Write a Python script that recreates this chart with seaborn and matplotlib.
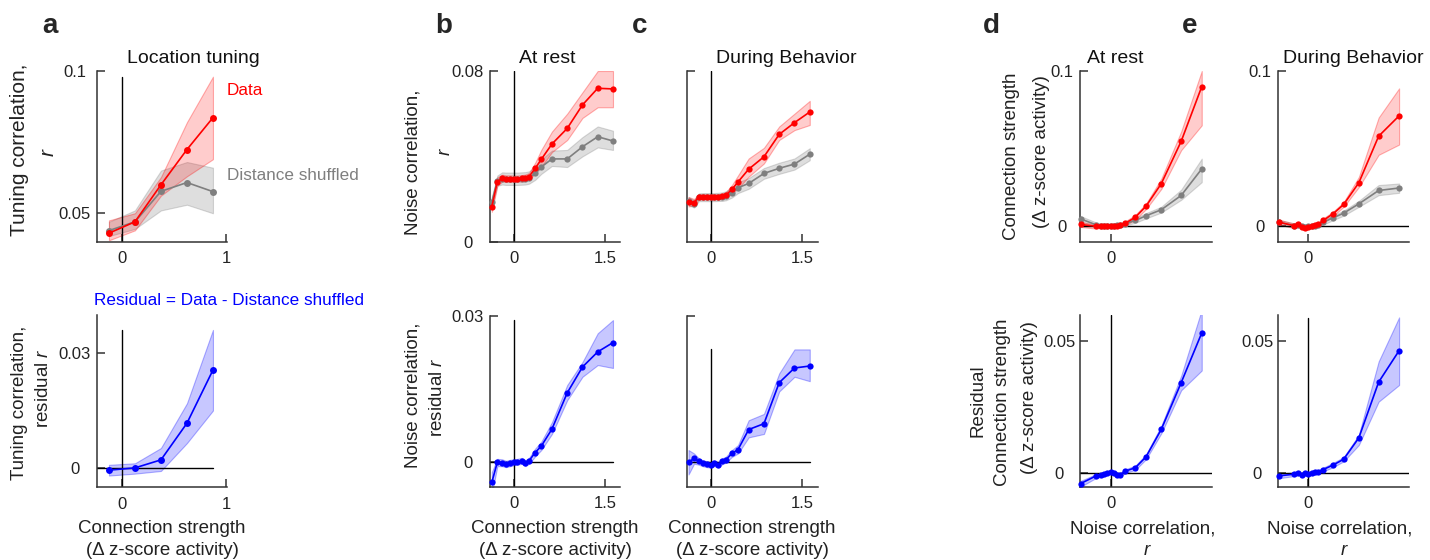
import matplotlib
matplotlib.use("Agg")
import matplotlib.pyplot as plt
import seaborn as sns

sns.set_style("ticks")
plt.rcParams["font.family"] = ["Liberation Sans", "DejaVu Sans"]
plt.rcParams["mathtext.fontset"] = "custom"
plt.rcParams["mathtext.it"] = "Liberation Sans:italic"
plt.rcParams["mathtext.rm"] = "Liberation Sans"

RED, GRAY, BLUE = "#ff0000", "#7f7f7f", "#0000ff"
INK = "#333333"

# --- panel a : location tuning vs connection strength
X_A = [-0.125, 0.125, 0.375, 0.625, 0.875]
A_DATA = [0.043, 0.047, 0.060, 0.0724, 0.0836]
A_DATA_LO = [0.0405, 0.044, 0.0562, 0.063, 0.069]
A_DATA_HI = [0.0475, 0.050, 0.0627, 0.082, 0.098]
A_SHUF = [0.0439, 0.047, 0.0577, 0.0608, 0.0576]
A_SHUF_LO = [0.0420, 0.0445, 0.051, 0.053, 0.050]
A_SHUF_HI = [0.0470, 0.051, 0.065, 0.068, 0.066]
A_RES = [-0.0006, 0.0, 0.0021, 0.0117, 0.0256]
A_RES_LO = [-0.002, -0.0015, -0.0008, 0.0065, 0.015]
A_RES_HI = [0.0008, 0.0012, 0.0052, 0.0169, 0.0361]

# --- panels b, c : noise correlation vs connection strength
X_BC = [-0.36, -0.27, -0.19, -0.13, -0.06, 0.0, 0.06, 0.13, 0.19, 0.25,
        0.35, 0.45, 0.625, 0.875, 1.125, 1.375, 1.625]
B_DATA = [0.0164, 0.0281, 0.0297, 0.0295, 0.0295, 0.0294, 0.0295, 0.0297, 0.0300, 0.0305,
          0.0344, 0.0386, 0.0458, 0.0531, 0.0641, 0.0719, 0.0716]
B_DATA_LO = [0.0140, 0.0262, 0.0282, 0.0281, 0.0281, 0.0280, 0.0281, 0.0282, 0.0285, 0.0290,
             0.0320, 0.0350, 0.0420, 0.0477, 0.0580, 0.0630, 0.0630]
B_DATA_HI = [0.0190, 0.0302, 0.0314, 0.0311, 0.0311, 0.0310, 0.0310, 0.0312, 0.0315, 0.0322,
             0.0370, 0.0430, 0.0516, 0.0600, 0.0700, 0.0800, 0.0800]
B_SHUF = [0.0187, 0.0285, 0.0295, 0.0294, 0.0294, 0.0294, 0.0294, 0.0295, 0.0296, 0.0300,
          0.0320, 0.0350, 0.0388, 0.0388, 0.0445, 0.0492, 0.0472]
B_SHUF_LO = [0.0165, 0.0262, 0.0268, 0.0266, 0.0266, 0.0266, 0.0266, 0.0267, 0.0268, 0.0272,
             0.0290, 0.0318, 0.0355, 0.0350, 0.0400, 0.0442, 0.0430]
B_SHUF_HI = [0.0210, 0.0310, 0.0325, 0.0324, 0.0324, 0.0324, 0.0324, 0.0325, 0.0326, 0.0330,
             0.0352, 0.0385, 0.0427, 0.0430, 0.0490, 0.0540, 0.0520]
C_DATA = [0.0188, 0.0183, 0.0211, 0.0211, 0.0210, 0.0210, 0.0211, 0.0211, 0.0212, 0.0218,
          0.0245, 0.0280, 0.0340, 0.0398, 0.0503, 0.0558, 0.0608]
C_DATA_LO = [0.0165, 0.0170, 0.0198, 0.0199, 0.0199, 0.0199, 0.0199, 0.0199, 0.0200, 0.0205,
             0.0225, 0.0250, 0.0305, 0.0367, 0.0477, 0.0523, 0.0547]
C_DATA_HI = [0.0210, 0.0200, 0.0224, 0.0223, 0.0222, 0.0222, 0.0223, 0.0223, 0.0224, 0.0232,
             0.0265, 0.0310, 0.0390, 0.0440, 0.0540, 0.0600, 0.0660]
C_SHUF = [0.0190, 0.0177, 0.0208, 0.0209, 0.0209, 0.0209, 0.0209, 0.0210, 0.0211, 0.0215,
          0.0230, 0.0253, 0.0273, 0.0320, 0.0344, 0.0364, 0.0410]
C_SHUF_LO = [0.0172, 0.0160, 0.0190, 0.0190, 0.0190, 0.0190, 0.0190, 0.0191, 0.0191, 0.0194,
             0.0207, 0.0228, 0.0248, 0.0295, 0.0318, 0.0338, 0.0382]
C_SHUF_HI = [0.0208, 0.0195, 0.0226, 0.0228, 0.0228, 0.0228, 0.0228, 0.0229, 0.0231, 0.0236,
             0.0253, 0.0278, 0.0298, 0.0345, 0.0370, 0.0390, 0.0438]
B_RES = [-0.0041, 0.0, -0.0001, -0.0004, -0.0001, 0.0, 0.0001, 0.0003, -0.0002, 0.0003,
         0.0020, 0.0033, 0.0068, 0.0142, 0.0195, 0.0226, 0.0245]
B_RES_LO = [-0.0065, -0.0008, -0.0008, -0.0010, -0.0008, -0.0006, -0.0005, -0.0003, -0.0008, -0.0003,
            0.0012, 0.0025, 0.0058, 0.0127, 0.0175, 0.0199, 0.0193]
B_RES_HI = [-0.0020, 0.0007, 0.0006, 0.0003, 0.0005, 0.0006, 0.0007, 0.0009, 0.0004, 0.0009,
            0.0028, 0.0042, 0.0082, 0.0158, 0.0205, 0.0264, 0.0291]
C_RES = [0.0, 0.0008, 0.0002, -0.0002, -0.0004, -0.0005, -0.0002, -0.0005, 0.0002, 0.0005,
         0.0018, 0.0026, 0.0067, 0.0079, 0.0163, 0.0193, 0.0197]
C_RES_LO = [-0.0025, -0.0003, -0.0005, -0.0008, -0.0010, -0.0011, -0.0008, -0.0011, -0.0004, -0.0001,
            0.0011, 0.0018, 0.0051, 0.0058, 0.0145, 0.0175, 0.0166]
C_RES_HI = [0.0025, 0.0018, 0.0008, 0.0004, 0.0002, 0.0001, 0.0004, 0.0001, 0.0008, 0.0011,
            0.0025, 0.0035, 0.0086, 0.0099, 0.0182, 0.0231, 0.0231]

# --- panels d, e : connection strength vs noise correlation
X_DE = [-0.09, -0.045, -0.03, -0.02, -0.01, 0.0, 0.01, 0.02, 0.03,
        0.045, 0.075, 0.107, 0.153, 0.213, 0.275]
D_DATA = [0.0011, 0.0, 0.0, 0.0002, 0.0, 0.0, 0.0002, 0.0004, 0.0006,
          0.0019, 0.0058, 0.0129, 0.0274, 0.0547, 0.0899]
D_DATA_LO = [-0.0005, -0.0015, -0.0013, -0.0011, -0.0012, -0.0012, -0.0010, -0.0008, -0.0006,
             0.0006, 0.0043, 0.0110, 0.0240, 0.0490, 0.0650]
D_DATA_HI = [0.0027, 0.0012, 0.0012, 0.0014, 0.0012, 0.0012, 0.0014, 0.0016, 0.0018,
             0.0032, 0.0073, 0.0145, 0.0306, 0.0610, 0.1000]
D_SHUF = [0.0047, 0.0010, 0.0004, 0.0004, 0.0004, 0.0004, 0.0004, 0.0006, 0.0008,
          0.0017, 0.0037, 0.0067, 0.0106, 0.0198, 0.0369]
D_SHUF_LO = [0.0030, -0.0005, -0.0010, -0.0010, -0.0010, -0.0010, -0.0010, -0.0008, -0.0006,
             0.0005, 0.0022, 0.0050, 0.0088, 0.0170, 0.0284]
D_SHUF_HI = [0.0065, 0.0025, 0.0018, 0.0018, 0.0018, 0.0018, 0.0018, 0.0020, 0.0022,
             0.0030, 0.0052, 0.0084, 0.0125, 0.0235, 0.0435]
E_DATA = [0.0026, 0.0004, 0.0015, -0.0006, -0.0010, -0.0006, 0.0, 0.0009, 0.0011,
          0.0037, 0.0080, 0.0140, 0.0280, 0.0580, 0.0711]
E_DATA_LO = [0.0010, -0.0010, 0.0001, -0.0019, -0.0022, -0.0018, -0.0012, -0.0003, -0.0001,
             0.0024, 0.0066, 0.0125, 0.0252, 0.0460, 0.0526]
E_DATA_HI = [0.0042, 0.0018, 0.0029, 0.0007, 0.0002, 0.0006, 0.0012, 0.0021, 0.0023,
             0.0050, 0.0094, 0.0155, 0.0317, 0.0700, 0.0888]
E_SHUF = [0.0026, 0.0004, 0.0005, 0.0, -0.0003, -0.0002, 0.0, 0.0004, 0.0006,
          0.0025, 0.0054, 0.0084, 0.0144, 0.0230, 0.0246]
E_SHUF_LO = [0.0011, -0.0011, -0.0010, -0.0015, -0.0018, -0.0017, -0.0015, -0.0011, -0.0009,
             0.0010, 0.0039, 0.0068, 0.0125, 0.0200, 0.0215]
E_SHUF_HI = [0.0041, 0.0019, 0.0020, 0.0015, 0.0012, 0.0013, 0.0015, 0.0019, 0.0021,
             0.0040, 0.0069, 0.0100, 0.0163, 0.0265, 0.0275]
D_RES = [-0.0038, -0.0010, -0.0006, -0.0003, 0.0003, 0.0006, 0.0003, -0.0004, -0.0004,
         0.0009, 0.0022, 0.0063, 0.0167, 0.0344, 0.0532]
D_RES_LO = [-0.0050, -0.0018, -0.0013, -0.0010, -0.0004, -0.0001, -0.0004, -0.0011, -0.0011,
            0.0002, 0.0014, 0.0054, 0.0152, 0.0315, 0.0390]
D_RES_HI = [-0.0028, -0.0003, 0.0001, 0.0004, 0.0010, 0.0013, 0.0010, 0.0003, 0.0003,
            0.0016, 0.0030, 0.0072, 0.0180, 0.0370, 0.0620]
E_RES = [-0.0009, -0.0003, 0.0003, -0.0006, 0.0003, -0.0003, 0.0003, 0.0004, 0.0006,
         0.0015, 0.0032, 0.0054, 0.0135, 0.0346, 0.0465]
E_RES_LO = [-0.0018, -0.0010, -0.0004, -0.0013, -0.0004, -0.0010, -0.0004, -0.0003, -0.0001,
            0.0008, 0.0024, 0.0046, 0.0108, 0.0272, 0.0335]
E_RES_HI = [0.0000, 0.0004, 0.0010, 0.0001, 0.0010, 0.0004, 0.0010, 0.0011, 0.0013,
            0.0022, 0.0040, 0.0062, 0.0146, 0.0424, 0.0591]

W, H = 1430, 560
fig = plt.figure(figsize=(W / 100, H / 100), dpi=100)


def px_text(x, y, s, **kw):
    fig.text(x / W, 1 - y / H, s, **kw)


def make_ax(l, t, r, b, xlim, ylim, xticks, xlabels, yticks, ylabels, ypad=16):
    ax = fig.add_axes([l / W, 1 - b / H, (r - l) / W, (b - t) / H])
    ax.set_xlim(xlim)
    ax.set_ylim(ylim)
    sns.despine(ax=ax)
    for s in ["left", "bottom"]:
        ax.spines[s].set_color(INK)
        ax.spines[s].set_linewidth(1.1)
    ax.set_xticks(xticks, xlabels)
    ax.set_yticks(yticks, ylabels)
    ax.tick_params(direction="in", length=6, width=1.1, colors=INK, labelsize=12,
                   labelcolor="#222222")
    ax.tick_params(axis="x", pad=7)
    ax.tick_params(axis="y", pad=ypad)
    plt.setp(ax.get_yticklabels(), ha="center")
    return ax


def band(ax, x, y, lo, hi, color, ms=4.5):
    r, g, b = matplotlib.colors.to_rgb(color)
    ax.fill_between(x, lo, hi, facecolor=(r, g, b, 0.22), edgecolor=(r, g, b, 0.3), linewidth=0.8)
    sns.lineplot(x=x, y=y, color=color, marker="o", markersize=ms, markeredgewidth=0,
                 linewidth=1.2, ax=ax, clip_on=False, zorder=3)


def pair(ax, x, data, dlo, dhi, shuf, slo, shi, ms=4.5):
    r, g, b = matplotlib.colors.to_rgb(GRAY)
    ax.fill_between(x, slo, shi, facecolor=(r, g, b, 0.25), edgecolor=(r, g, b, 0.3), linewidth=0.8)
    r, g, b = matplotlib.colors.to_rgb(RED)
    ax.fill_between(x, dlo, dhi, facecolor=(r, g, b, 0.2), edgecolor=(r, g, b, 0.3), linewidth=0.8)
    sns.lineplot(x=x, y=shuf, color=GRAY, marker="o", markersize=ms, markeredgewidth=0,
                 linewidth=1.2, ax=ax, clip_on=False, zorder=3)
    sns.lineplot(x=x, y=data, color=RED, marker="o", markersize=ms, markeredgewidth=0,
                 linewidth=1.2, ax=ax, clip_on=False, zorder=4)


def vline(ax, y0, y1):
    ax.plot([0, 0], [y0, y1], color="black", lw=1.0, zorder=2)


def hline(ax, x0, x1):
    ax.plot([x0, x1], [0, 0], color="black", lw=1.0, zorder=2)


# a
ax = make_ax(97, 71, 227, 241.7, (-0.24, 1.01), (0.04, 0.1), [0, 1], ["0", "1"],
             [0.05, 0.1], ["0.05", "0.1"])
vline(ax, 0.04, 0.098)
pair(ax, X_A, A_DATA, A_DATA_LO, A_DATA_HI, A_SHUF, A_SHUF_LO, A_SHUF_HI, ms=5)
ax = make_ax(97, 315, 227, 487, (-0.24, 1.01), (-0.005, 0.04), [0, 1], ["0", "1"],
             [0, 0.03], ["0", "0.03"])
vline(ax, -0.005, 0.0361)
hline(ax, -0.24, 0.875)
band(ax, X_A, A_RES, A_RES_LO, A_RES_HI, BLUE, ms=5)

# b
ax = make_ax(490, 71, 620, 241.7, (-0.39, 1.74), (0, 0.08), [0, 1.5], ["0", "1.5"],
             [0, 0.08], ["0", "0.08"])
vline(ax, 0, 0.08)
pair(ax, X_BC, B_DATA, B_DATA_LO, B_DATA_HI, B_SHUF, B_SHUF_LO, B_SHUF_HI)
ax = make_ax(490, 315.7, 620, 486.7, (-0.39, 1.74), (-0.005, 0.03), [0, 1.5], ["0", "1.5"],
             [0, 0.03], ["0", "0.03"])
vline(ax, -0.005, 0.0291)
hline(ax, -0.39, 1.625)
band(ax, X_BC, B_RES, B_RES_LO, B_RES_HI, BLUE)

# c
ax = make_ax(686.7, 71, 818, 241.7, (-0.39, 1.76), (0, 0.08), [0, 1.5], ["0", "1.5"],
             [0.08], [""])
vline(ax, 0, 0.08)
pair(ax, X_BC, C_DATA, C_DATA_LO, C_DATA_HI, C_SHUF, C_SHUF_LO, C_SHUF_HI)
ax = make_ax(686.7, 315.7, 818, 486.7, (-0.39, 1.76), (-0.005, 0.03), [0, 1.5], ["0", "1.5"],
             [0.03], [""])
vline(ax, -0.005, 0.0231)
hline(ax, -0.39, 1.63)
band(ax, X_BC, C_RES, C_RES_LO, C_RES_HI, BLUE)

# d
ax = make_ax(1080, 71, 1211.7, 241.7, (-0.092, 0.305), (-0.01, 0.1), [0], ["0"],
             [0, 0.1], ["0", "0.1"], ypad=13)
hline(ax, -0.092, 0.305)
pair(ax, X_DE, D_DATA, D_DATA_LO, D_DATA_HI, D_SHUF, D_SHUF_LO, D_SHUF_HI)
ax = make_ax(1080, 315, 1211.7, 486.7, (-0.092, 0.305), (-0.005, 0.06), [0], ["0"],
             [0, 0.05], ["0", "0.05"], ypad=15)
vline(ax, -0.005, 0.06)
hline(ax, -0.092, 0.305)
band(ax, X_DE, D_RES, D_RES_LO, D_RES_HI, BLUE)

# e
ax = make_ax(1278, 71, 1409, 241.7, (-0.092, 0.305), (-0.01, 0.1), [0], ["0"],
             [0, 0.1], ["0", "0.1"], ypad=13)
hline(ax, -0.092, 0.305)
pair(ax, X_DE, E_DATA, E_DATA_LO, E_DATA_HI, E_SHUF, E_SHUF_LO, E_SHUF_HI)
ax = make_ax(1278, 315, 1409, 486.7, (-0.092, 0.305), (-0.005, 0.06), [0], ["0"],
             [0, 0.05], ["0", "0.05"], ypad=15)
vline(ax, -0.005, 0.059)
hline(ax, -0.092, 0.305)
band(ax, X_DE, E_RES, E_RES_LO, E_RES_HI, BLUE)

# panel letters and titles
for x, s in [(42, "a"), (435, "b"), (632, "c"), (983, "d"), (1182, "e")]:
    px_text(x, 33, s, fontsize=20, fontweight="bold", ha="left", va="baseline")
for x, s in [(193, "Location tuning"), (547, "At rest"), (786, "During Behavior"),
             (1115, "At rest"), (1353, "During Behavior")]:
    px_text(x, 63, s, fontsize=14, ha="center", va="baseline", color="#111111")

# in-plot annotations
px_text(227, 95, "Data", fontsize=12.3, color=RED, ha="left", va="baseline")
px_text(227, 180, "Distance shuffled", fontsize=12.3, color=GRAY, ha="left", va="baseline")
px_text(94, 305, "Residual = Data - Distance shuffled", fontsize=12.3, color=BLUE,
        ha="left", va="baseline")

# y labels
rot = dict(rotation=90, ha="center", va="center", color="#222222")
px_text(20, 150, "Tuning correlation,", fontsize=15, **rot)
px_text(48, 152, "$r$", fontsize=15, **rot)
px_text(20, 403, "Tuning correlation,", fontsize=13.5, **rot)
px_text(43, 388, "residual $r$", fontsize=13.5, **rot)
px_text(413, 162, "Noise correlation,", fontsize=13.5, **rot)
px_text(445, 152, "$r$", fontsize=13.5, **rot)
px_text(413, 395, "Noise correlation,", fontsize=13.5, **rot)
px_text(438, 397, "residual $r$", fontsize=13.5, **rot)
px_text(1011, 156, "Connection strength", fontsize=13.5, **rot)
px_text(1041, 152, "(\u0394 z-score activity)", fontsize=13.5, **rot)
px_text(978, 401, "Residual", fontsize=13.5, **rot)
px_text(1002, 402, "Connection strength", fontsize=13.5, **rot)
px_text(1030, 398, "(\u0394 z-score activity)", fontsize=13.5, **rot)

# x labels
for x in [162, 555, 752]:
    px_text(x, 533, "Connection strength", fontsize=13.5, ha="center", va="baseline", color="#222222")
    px_text(x, 555, "(\u0394 z-score activity)", fontsize=13.5, ha="center", va="baseline", color="#222222")
for x in [1143, 1340]:
    px_text(x, 533, "Noise correlation,", fontsize=13.5, ha="center", va="baseline", color="#222222")
    px_text(x + 4, 555, "$r$", fontsize=13.5, ha="center", va="baseline", color="#222222")

fig.savefig("out.png", dpi=100)
